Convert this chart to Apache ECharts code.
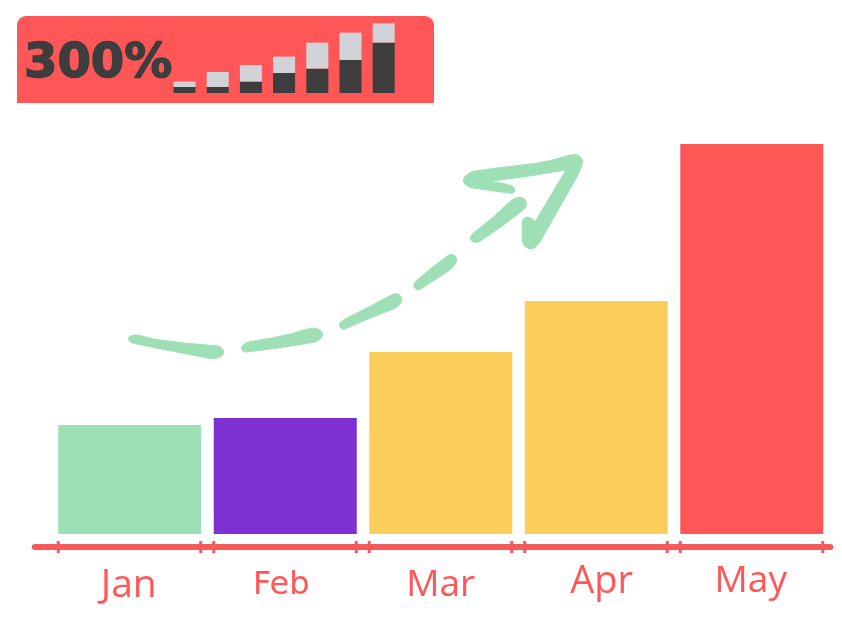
<!DOCTYPE html>
<html>
<head>
<meta charset="utf-8">
<style>
  html, body { margin: 0; padding: 0; background: #fff; }
  #main { width: 842px; height: 624px; }
</style>
<script src="https://cdn.jsdelivr.net/npm/echarts@6/dist/echarts.min.js"></script>
</head>
<body>
<div id="main"></div>
<script>
var months = ['Jan', 'Feb', 'Mar', 'Apr', 'May'];
var monthValues = [109, 116, 182, 233, 390];
var barColors = ['#9fdfb5', '#7e30d2', '#fccf5d', '#fccf5d', '#ff5757'];

var miniCategories = ['1', '2', '3', '4', '5', '6', '7'];
var miniDark = [6, 6, 11.4, 20, 24.4, 33, 50.4];
var miniLight = [5.4, 15, 16.6, 16.4, 26, 27.4, 19.3];

var badgeText = '300%';

// hand drawn arrow (3x coords, moved into place below)
var arrowPaths = [
  'M55 595 Q60 583 85 585 Q110 592 135 598 Q230 612 325 618 Q342 625 341 640 Q335 657 300 655 Q190 635 70 610 Q55 605 55 595Z',
  'M394 625 Q398 610 420 605 Q490 595 550 580 Q590 565 615 564 Q638 570 638 585 Q635 600 610 607 Q510 625 410 636 Q395 635 394 625Z',
  'M688 555 Q690 545 705 537 Q780 500 850 462 Q870 458 876 475 Q876 495 850 507 Q775 535 703 568 Q690 568 688 555Z',
  'M911 437 Q912 428 925 417 Q970 378 1015 346 Q1030 338 1040 355 Q1042 370 1020 390 Q975 420 930 448 Q915 452 911 437Z',
  'M1080 295 Q1082 285 1095 275 Q1150 235 1205 180 Q1230 165 1245 178 Q1256 195 1240 210 Q1180 258 1112 302 Q1088 315 1080 295Z',
  'M1205 160 Q1140 152 1085 143 Q1060 135 1060 122 Q1062 105 1085 96 Q1105 90 1280 70 Q1340 58 1385 44 Q1412 40 1418 65 Q1415 85 1400 112 Q1345 210 1290 305 Q1275 328 1260 327 Q1240 322 1237 300 Q1235 270 1238 240 Q1245 228 1258 232 Q1270 238 1276 245 Q1320 170 1368 90 Q1255 110 1140 124 Q1180 130 1205 137 Q1218 145 1213 155 Q1210 160 1205 160Z'
];

var red = '#ff5757';
var green = '#9fdfb5';

var myChart = echarts.init(document.getElementById('main'), null, { renderer: 'canvas' });

myChart.setOption({
  animation: false,
  backgroundColor: '#fff',
  title: {
    text: badgeText, left: 19, top: 36,
    textStyle: {
      fontFamily: 'DejaVu Sans', fontWeight: 'bold', fontSize: 48, color: '#3d3d3d',
      textBorderColor: '#3d3d3d', textBorderWidth: 1.5
    }
  },
  graphic: [
    { type: 'rect', z: -10, shape: { x: 17, y: 16, width: 417, height: 87, r: [9, 9, 0, 0] }, style: { fill: red } },
    { type: 'rect', z: 5, shape: { x: 32, y: 544.5, width: 801, height: 5, r: 2.5 }, style: { fill: red, stroke: '#d9514f', lineWidth: 0.8 } }
  ],
  grid: [
    { left: 52, top: 144, width: 777.5, height: 390 },
    { left: 167.9, top: 23, width: 232.4, height: 70 }
  ],
  xAxis: [
    {
      type: 'category', gridIndex: 0, data: months, offset: 13,
      axisLine: { show: false }, axisTick: { show: false },
      axisLabel: {
        margin: 12, interval: 0,
        formatter: function (v) { return '{' + v + '|' + v + '}'; },
        rich: {
          Jan: { fontFamily: 'Open Sans', fontSize: 39, color: red, padding: [7, 2, 0, 0] },
          Feb: { fontFamily: 'DejaVu Sans', fontSize: 32, color: red, padding: [11, 8, 0, 0] },
          Mar: { fontFamily: 'Open Sans', fontSize: 37, color: red, padding: [8, 0, 0, 0] },
          Apr: { fontFamily: 'Open Sans', fontSize: 38, color: red, padding: [4, 0, 0, 11] },
          May: { fontFamily: 'Open Sans', fontSize: 37, color: red, padding: [4, 2, 0, 0] }
        }
      }
    },
    {
      type: 'category', gridIndex: 1, data: miniCategories,
      axisLine: { show: false }, axisTick: { show: false }, axisLabel: { show: false }
    }
  ],
  yAxis: [
    { type: 'value', gridIndex: 0, min: 0, max: 390, show: false },
    { type: 'value', gridIndex: 1, min: 0, max: 70, show: false }
  ],
  series: [
    {
      type: 'bar', xAxisIndex: 0, yAxisIndex: 0, data: monthValues, barWidth: 143,
      itemStyle: { color: function (p) { return barColors[p.dataIndex]; } }
    },
    {
      // ticks on both edges of each bar, sitting on the axis line
      type: 'custom', xAxisIndex: 0, yAxisIndex: 0, z: 6, data: months,
      renderItem: function (params, api) {
        var p = api.coord([params.dataIndex, 0]);
        var mk = function (x) {
          return { type: 'rect', shape: { x: x - 1.5, y: p[1] + 7, width: 3, height: 12 }, style: { fill: red } };
        };
        return { type: 'group', children: [mk(p[0] - 71.5), mk(p[0] + 71)] };
      }
    },
    {
      // the dashed arrow, graphic component has no path type so it goes here
      type: 'custom', xAxisIndex: 0, yAxisIndex: 0, z: 10, silent: true, data: [0],
      renderItem: function () {
        return {
          type: 'group', x: 110, y: 140, scaleX: 1 / 3, scaleY: 1 / 3,
          children: arrowPaths.map(function (d) {
            return { type: 'path', shape: { pathData: d }, style: { fill: green, stroke: green, lineWidth: 3 } };
          })
        };
      }
    },
    { type: 'bar', xAxisIndex: 1, yAxisIndex: 1, stack: 'mini', data: miniDark, barWidth: 22, itemStyle: { color: '#3d3d3d' } },
    { type: 'bar', xAxisIndex: 1, yAxisIndex: 1, stack: 'mini', data: miniLight, barWidth: 22, itemStyle: { color: '#d1d3d8' } }
  ]
});
</script>
</body>
</html>
